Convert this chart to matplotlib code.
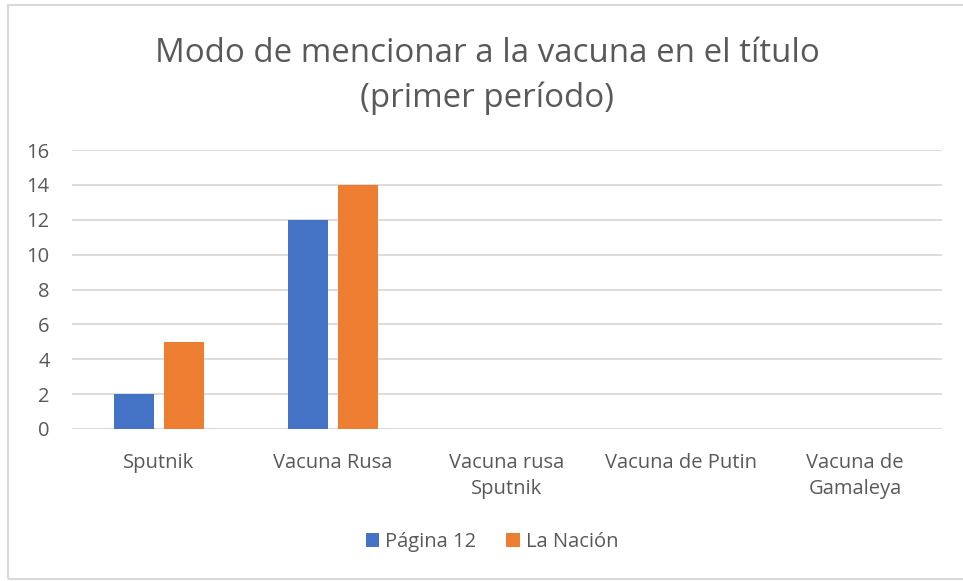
import matplotlib
matplotlib.use("Agg")
import matplotlib.pyplot as plt
import numpy as np
from matplotlib.patches import Rectangle

categories = ["Sputnik", "Vacuna Rusa", "Vacuna rusa\nSputnik", "Vacuna de Putin", "Vacuna de\nGamaleya"]
series_names = ["Página 12", "La Nación"]
pagina12 = [2, 12, 0, 0, 0]
lanacion = [5, 14, 0, 0, 0]
colors = ["#4472C4", "#ED7D31"]
yticks = [0, 2, 4, 6, 8, 10, 12, 14, 16]

plt.rcParams['font.family'] = ['Open Sans', 'DejaVu Sans']
W, H = 963, 581
fig = plt.figure(figsize=(W/100, H/100), dpi=100)
fig.patch.set_facecolor("white")

# outer border
fig.patches.append(Rectangle((8/W, 1 - 579/H), (W + 20)/W, (579 - 5)/H, transform=fig.transFigure,
                             fill=False, edgecolor="#D9D9D9", linewidth=1.5))

left, right, top, bottom = 72, 942, 150, 429
ax = fig.add_axes([left/W, 1 - bottom/H, (right-left)/W, (bottom-top)/H])

x = np.arange(len(categories))
bw = 40/174
gap = 10/174
ax.bar(x - (bw+gap)/2, pagina12, bw, color=colors[0], label=series_names[0], zorder=3)
ax.bar(x + (bw+gap)/2, lanacion, bw, color=colors[1], label=series_names[1], zorder=3)

ax.set_xlim(-0.5, len(categories) - 0.5)
ax.set_ylim(0, 16)
ax.set_yticks(yticks)
ax.yaxis.grid(True, color="#D9D9D9", linewidth=1.3, zorder=0)
for s in ax.spines.values():
    s.set_visible(False)
ax.tick_params(axis='both', length=0, labelsize=14.5, labelcolor="#595959")
ax.tick_params(axis='y', pad=16)
ax.tick_params(axis='x', pad=17)
ax.set_xticks(x)
ax.set_xticklabels(categories, linespacing=1.45)
for lbl in ax.get_yticklabels():
    lbl.set_horizontalalignment('right')

fig.text(487/W, 1 - 76/H, "Modo de mencionar a la vacuna en el título\n(primer período)",
         ha='center', va='center', fontsize=23.8, color="#595959", linespacing=1.45)

leg = fig.legend(loc='center', bbox_to_anchor=(492/W, 1 - 542/H), ncol=2, frameon=False,
                 fontsize=14.5, handlelength=0.65, handleheight=0.65, handletextpad=0.3,
                 columnspacing=1.5, labelcolor="#595959")

fig.savefig("out.png", dpi=100, facecolor="white")
